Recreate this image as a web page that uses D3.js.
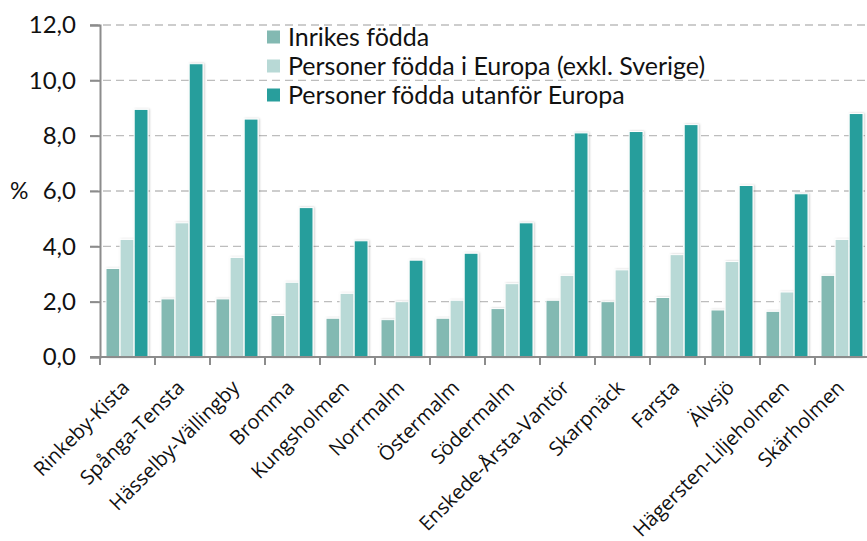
<!DOCTYPE html>
<html>
<head>
<meta charset="utf-8">
<script src="https://cdn.jsdelivr.net/npm/d3@7"></script>
<style>
  body { margin: 0; background: #fff; }
  svg { display: block; }
</style>
</head>
<body>
<div id="chart"></div>
<script>
const districts = ['Rinkeby-Kista', 'Spånga-Tensta', 'Hässelby-Vällingby', 'Bromma', 'Kungsholmen', 'Norrmalm', 'Östermalm', 'Södermalm', 'Enskede-Årsta-Vantör', 'Skarpnäck', 'Farsta', 'Älvsjö', 'Hägersten-Liljeholmen', 'Skärholmen']
const seriesNames = ['Inrikes födda', 'Personer födda i Europa (exkl. Sverige)', 'Personer födda utanför Europa']
const inrikes = [3.2, 2.1, 2.1, 1.5, 1.4, 1.35, 1.4, 1.75, 2.05, 2.0, 2.15, 1.7, 1.65, 2.95]
const europa = [4.25, 4.85, 3.6, 2.7, 2.3, 2.0, 2.05, 2.65, 2.95, 3.15, 3.7, 3.45, 2.35, 4.25]
const utanfor = [8.95, 10.6, 8.6, 5.4, 4.2, 3.5, 3.75, 4.85, 8.1, 8.15, 8.4, 6.2, 5.9, 8.8]
const yTicks = [0, 2, 4, 6, 8, 10, 12]
const colors = ['#83b9b2', '#b8d9d6', '#289e9c']

const width = 867
const height = 541
const margin = { top: 25, right: -3, bottom: 184, left: 100 }

const svg = d3.select('#chart')
  .append('svg')
  .attr('width', width)
  .attr('height', height)

// soft shadow behind the bars
svg.append('defs')
  .append('filter')
  .attr('id', 'shadow')
  .attr('x', '-30%').attr('y', '-5%').attr('width', '160%').attr('height', '110%')
  .append('feDropShadow')
  .attr('dx', 1).attr('dy', 0).attr('stdDeviation', 1.3)
  .attr('flood-color', '#000').attr('flood-opacity', 0.22)

const x = d3.scaleBand()
  .domain(districts)
  .range([margin.left, width - margin.right])

const xInner = d3.scaleBand()
  .domain(d3.range(3))
  .range([6, 48])
  .paddingInner(0.02)

const y = d3.scaleLinear()
  .domain([0, 12])
  .range([height - margin.bottom, margin.top])

// grid
svg.append('g')
  .selectAll('line')
  .data(yTicks.filter(d => d > 0))
  .enter()
  .append('line')
  .attr('x1', margin.left - 10)
  .attr('x2', width)
  .attr('y1', d => y(d))
  .attr('y2', d => y(d))
  .attr('stroke', '#bdbdbd')
  .attr('stroke-width', 1.3)
  .attr('stroke-dasharray', '8,5')

// bars
const rows = districts.map((name, i) => ({ name, values: [inrikes[i], europa[i], utanfor[i]] }))

svg.append('g')
  .selectAll('g')
  .data(rows)
  .enter()
  .append('g')
  .attr('transform', d => `translate(${x(d.name)},0)`)
  .selectAll('rect')
  .data(d => d.values.map((v, k) => ({ v, k })))
  .enter()
  .append('rect')
  .attr('x', d => xInner(d.k))
  .attr('width', xInner.bandwidth())
  .attr('y', d => y(d.v))
  .attr('height', d => y(0) - y(d.v))
  .attr('fill', d => colors[d.k])
  .attr('stroke', '#fff')
  .attr('stroke-width', 1)
  .attr('filter', 'url(#shadow)')

// y axis
const yAxis = svg.append('g')
  .attr('transform', `translate(${margin.left},0)`)
  .call(d3.axisLeft(y).tickValues(yTicks).tickSize(10).tickPadding(14).tickFormat(d => d3.format('.1f')(d).replace('.', ',')))

yAxis.select('.domain').attr('stroke', '#8c8c8c').attr('stroke-width', 2)
yAxis.selectAll('.tick line').attr('stroke', '#8c8c8c').attr('stroke-width', 2)
yAxis.selectAll('.tick text')
  .attr('fill', '#111')
  .style('font-family', 'Lato, sans-serif')
  .style('font-size', '24px')

svg.append('text')
  .attr('x', 10)
  .attr('y', y(6))
  .attr('dy', '0.35em')
  .attr('fill', '#111')
  .style('font-family', 'Lato, sans-serif')
  .style('font-size', '23px')
  .text('%')

// x axis
const xAxisG = svg.append('g')
  .attr('transform', `translate(0,${y(0)})`)

xAxisG.append('line')
  .attr('x1', margin.left - 10)
  .attr('x2', width)
  .attr('stroke', '#8c8c8c')
  .attr('stroke-width', 2)

xAxisG.selectAll('line.tick')
  .data(districts)
  .enter()
  .append('line')
  .attr('class', 'tick')
  .attr('x1', d => x(d))
  .attr('x2', d => x(d))
  .attr('y2', 8)
  .attr('stroke', '#8c8c8c')
  .attr('stroke-width', 2)

xAxisG.selectAll('text')
  .data(districts)
  .enter()
  .append('text')
  .attr('transform', d => `translate(${x(d) + x.bandwidth() / 2 + 3},32) rotate(-45)`)
  .attr('text-anchor', 'end')
  .attr('fill', '#111')
  .style('font-family', '"Open Sans", sans-serif')
  .style('font-size', '20px')
  .text(d => d)

// legend
const legend = svg.append('g')
  .attr('transform', 'translate(267,37)')

const legendItem = legend.selectAll('g')
  .data(seriesNames)
  .enter()
  .append('g')
  .attr('transform', (d, i) => `translate(0,${i * 29})`)

legendItem.append('rect')
  .attr('y', -6.5)
  .attr('width', 13)
  .attr('height', 13)
  .attr('fill', (d, i) => colors[i])

legendItem.append('text')
  .attr('x', 21)
  .attr('dy', '0.36em')
  .attr('fill', '#111')
  .style('font-family', 'Lato, sans-serif')
  .style('font-size', '25px')
  .text(d => d)
</script>
</body>
</html>
